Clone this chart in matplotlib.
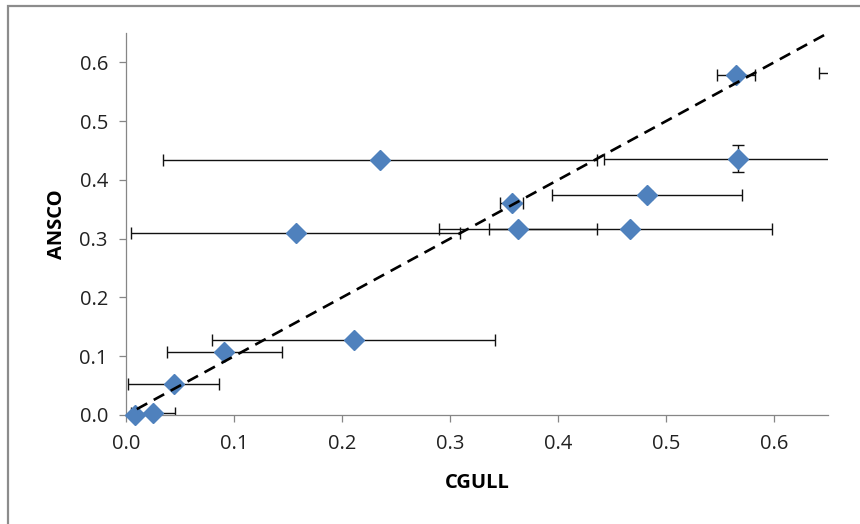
import numpy as np
import matplotlib.pyplot as plt
from matplotlib.patches import Rectangle

# valores medidos (CGULL vs ANSCO) con sus incertidumbres
cgull = [0.008, 0.025, 0.044, 0.091, 0.211, 0.157, 0.363, 0.467,
         0.357, 0.482, 0.567, 0.235, 0.565, 0.700]
ansco = [0.000, 0.004, 0.053, 0.107, 0.128, 0.310, 0.317, 0.317,
         0.361, 0.375, 0.436, 0.434, 0.579, 0.582]
cgull_err = [0.0, 0.020, 0.042, 0.053, 0.131, 0.152, 0.073, 0.131,
             0.0105, 0.088, 0.124, 0.201, 0.0175, 0.058]
ansco_err = [0.0, 0.0, 0.0, 0.0, 0.0, 0.0, 0.005, 0.0,
             0.0, 0.007, 0.023, 0.0, 0.0, 0.0]

# linea 1:1
ref_x = [0.01, 0.65]
ref_y = [0.01, 0.65]

x_ticks = [0.0, 0.1, 0.2, 0.3, 0.4, 0.5, 0.6]
y_ticks = [0.0, 0.1, 0.2, 0.3, 0.4, 0.5, 0.6]

plt.rcParams['font.family'] = ['Open Sans', 'DejaVu Sans']

fig = plt.figure(figsize=(8.6, 5.24), dpi=100)
ax = fig.add_axes([126/860, 1 - 415/524, (828 - 126)/860, (415 - 33)/524])

# marco exterior del grafico
fig.patches.append(Rectangle((8/860, -0.1), 1.1, 1.1 - 6/524,
                             transform=fig.transFigure, fill=False,
                             edgecolor='#8c8c8c', lw=1.6))

ax.errorbar(cgull, ansco, xerr=cgull_err, yerr=ansco_err, fmt='none',
            ecolor='#111111', elinewidth=1.0, capsize=4.2, capthick=1.0,
            zorder=2)

x = np.array(cgull)
y = np.array(ansco)
inside = x <= 0.65
ax.plot(x[inside], y[inside], 'D', ms=9.8, color='#4F81BD',
        markeredgecolor='#4F81BD', clip_on=False, zorder=3)

ax.plot(ref_x, ref_y, color='black', lw=1.9, dashes=(4.5, 2.8), zorder=4)

ax.set_xlim(0, 0.65)
ax.set_ylim(0, 0.65)
ax.set_xticks(x_ticks)
ax.set_yticks(y_ticks)
ax.set_xticklabels([f'{v:.1f}' for v in x_ticks])
ax.set_yticklabels([f'{v:.1f}' for v in y_ticks])

for s in ['top', 'right']:
    ax.spines[s].set_visible(False)
for s in ['left', 'bottom']:
    ax.spines[s].set_color('#868686')
    ax.spines[s].set_linewidth(0.9)

ax.tick_params(axis='both', direction='out', length=5, width=0.9,
               color='#868686', labelsize=14.5, labelcolor='#222222')
ax.tick_params(axis='x', pad=9)
ax.tick_params(axis='y', pad=8)

ax.set_xlabel('CGULL', fontsize=14.5, fontweight='bold', labelpad=13)
ax.set_ylabel('ANSCO', fontsize=14.5, fontweight='bold', labelpad=9)

fig.savefig('out.png', dpi=100)
